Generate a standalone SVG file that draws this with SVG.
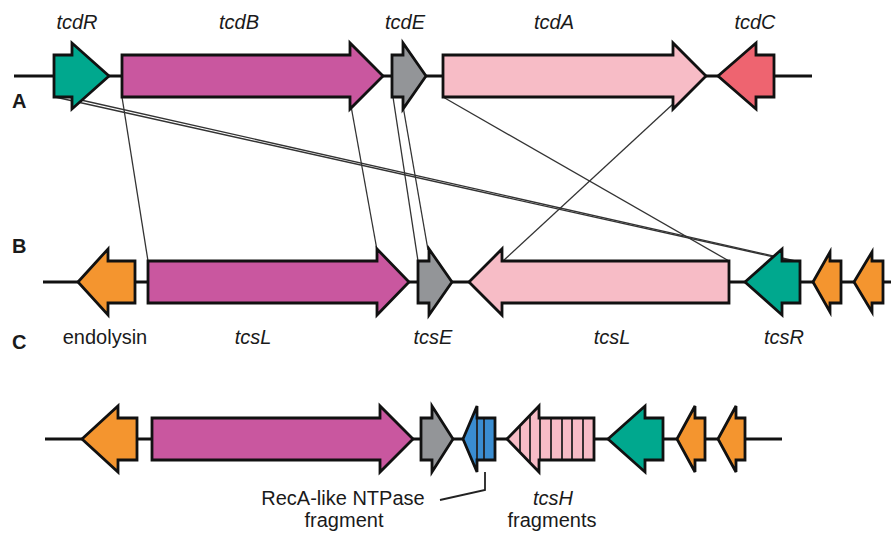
<svg xmlns="http://www.w3.org/2000/svg" width="891" height="534" viewBox="0 0 891 534">
<style>
.bb{stroke:#111;stroke-width:3;fill:none}
.g{stroke:#111;stroke-width:2.8;stroke-linejoin:miter}
.teal{fill:#00a88e}.mag{fill:#c9579f}.gray{fill:#939598}.pink{fill:#f7bcc6}.coral{fill:#ee6470}.orange{fill:#f4952f}.blue{fill:#3a8dd1}
.lab{font-family:"Liberation Sans",Arial,sans-serif;font-size:20px;fill:#1a1a1a;text-anchor:middle}
.it{font-style:italic}
.row{font-family:"Liberation Sans",Arial,sans-serif;font-size:20px;font-weight:bold;fill:#1a1a1a}
.con{stroke:#333;stroke-width:1.3;fill:none}
.st{stroke:#222;stroke-width:1.8}
</style>
<defs>
<clipPath id="clipBlue"><polygon points="463,439 477,406 477,418 495,418 495,460 477,460 477,472"/></clipPath>
<clipPath id="clipH"><polygon points="507,439 539,406 539,418 594,418 594,460 539,460 539,472"/></clipPath>
</defs>
<g id="backbones">
<line class="bb" x1="14" y1="76" x2="812" y2="76"/>
<line class="bb" x1="43" y1="282" x2="891" y2="282"/>
<line class="bb" x1="45" y1="439" x2="782" y2="439"/>
</g>
<g id="connectors">
<line class="con" x1="55" y1="97" x2="792" y2="261"/>
<line class="con" x1="72" y1="98" x2="800" y2="262"/>
<line class="con" x1="122" y1="97" x2="148" y2="261"/>
<line class="con" x1="351" y1="106" x2="377" y2="250"/>
<line class="con" x1="393" y1="97" x2="418" y2="261"/>
<line class="con" x1="403" y1="106" x2="428" y2="250"/>
<line class="con" x1="443" y1="97" x2="729" y2="261"/>
<line class="con" x1="673" y1="104" x2="503" y2="261"/>
</g>
<g id="rowA">
<g id="tcdR"><polygon class="g teal" points="54,55 72,55 72,43 109,76 72,109 72,97 54,97"/></g>
<g id="tcdB"><polygon class="g mag" points="122,55 350,55 350,43 383,76 350,109 350,97 122,97"/></g>
<g id="tcdE"><polygon class="g gray" points="392,55 403,55 403,43 426,76 403,109 403,97 392,97"/></g>
<g id="tcdA"><polygon class="g pink" points="443,55 673,55 673,43 706,76 673,109 673,97 443,97"/></g>
<g id="tcdC"><polygon class="g coral" points="718,76 756,43 756,55 774,55 774,97 756,97 756,109"/></g>
</g>
<g id="rowB">
<g id="endolysinB"><polygon class="g orange" points="78,282 108,249 108,261 135,261 135,303 108,303 108,315"/></g>
<g id="tcsL1B"><polygon class="g mag" points="148,261 377,261 377,249 409,282 377,315 377,303 148,303"/></g>
<g id="tcsEB"><polygon class="g gray" points="418,261 429,261 429,249 452,282 429,315 429,303 418,303"/></g>
<g id="tcsL2B"><polygon class="g pink" points="469,282 502,249 502,261 729,261 729,303 502,303 502,315"/></g>
<g id="tcsRB"><polygon class="g teal" points="745,282 782,249 782,261 800,261 800,303 782,303 782,315"/></g>
<g id="orb1"><polygon class="g orange" points="813,282 830,252 830,261 841,261 841,303 830,303 830,312"/></g>
<g id="orb2"><polygon class="g orange" points="854,282 872,252 872,261 883,261 883,303 872,303 872,312"/></g>
</g>
<g id="rowC">
<g id="endolysinC"><polygon class="g orange" points="82,439 118,406 118,418 137,418 137,460 118,460 118,472"/></g>
<g id="tcsLC"><polygon class="g mag" points="152,418 380,418 380,406 413,439 380,472 380,460 152,460"/></g>
<g id="tcsEC"><polygon class="g gray" points="421,418 432,418 432,406 453,439 432,472 432,460 421,460"/></g>
<g id="recA">
<polygon class="blue" points="463,439 477,406 477,418 495,418 495,460 477,460 477,472"/>
<g clip-path="url(#clipBlue)"><line class="st" x1="477" y1="400" x2="477" y2="480"/><line class="st" x1="484" y1="400" x2="484" y2="480"/></g>
<polygon class="g" fill="none" points="463,439 477,406 477,418 495,418 495,460 477,460 477,472"/>
</g>
<g id="tcsH">
<polygon class="pink" points="507,439 539,406 539,418 594,418 594,460 539,460 539,472"/>
<g clip-path="url(#clipH)">
<line class="st" x1="520" y1="400" x2="520" y2="480"/><line class="st" x1="530" y1="400" x2="530" y2="480"/><line class="st" x1="540" y1="400" x2="540" y2="480"/><line class="st" x1="551" y1="400" x2="551" y2="480"/><line class="st" x1="562" y1="400" x2="562" y2="480"/><line class="st" x1="572" y1="400" x2="572" y2="480"/><line class="st" x1="583" y1="400" x2="583" y2="480"/>
</g>
<polygon class="g" fill="none" points="507,439 539,406 539,418 594,418 594,460 539,460 539,472"/>
</g>
<g id="tcsRC"><polygon class="g teal" points="608,439 645,406 645,418 663,418 663,460 645,460 645,472"/></g>
<g id="orc1"><polygon class="g orange" points="677,439 695,406 695,418 705,418 705,460 695,460 695,472"/></g>
<g id="orc2"><polygon class="g orange" points="718,439 736,406 736,418 745,418 745,460 736,460 736,472"/></g>
<polyline class="con" style="stroke:#222;stroke-width:1.8" points="440,500 485,490 485,472"/>
</g>
<g id="labels">
<text class="row" x="12" y="108">A</text>
<text class="row" x="12" y="253">B</text>
<text class="row" x="12" y="349">C</text>
<text class="lab it" x="77" y="29">tcdR</text>
<text class="lab it" x="239" y="29">tcdB</text>
<text class="lab it" x="405" y="29">tcdE</text>
<text class="lab it" x="554" y="29">tcdA</text>
<text class="lab it" x="755" y="29">tcdC</text>
<text class="lab" x="105" y="344">endolysin</text>
<text class="lab it" x="253" y="344">tcsL</text>
<text class="lab it" x="433" y="344">tcsE</text>
<text class="lab it" x="612" y="344">tcsL</text>
<text class="lab it" x="784" y="344">tcsR</text>
<text class="lab" x="343" y="505">RecA-like NTPase</text>
<text class="lab" x="344" y="527">fragment</text>
<text class="lab it" x="553" y="505">tcsH</text>
<text class="lab" x="552" y="527">fragments</text>
</g>
</svg>
